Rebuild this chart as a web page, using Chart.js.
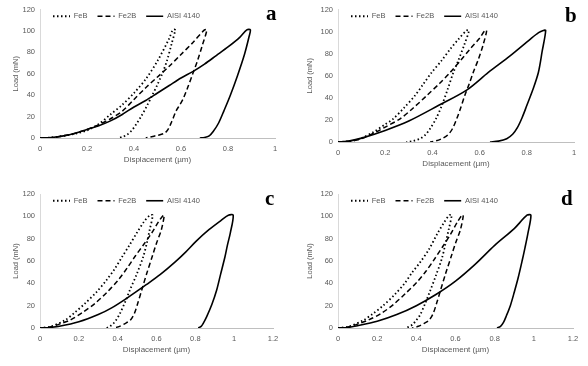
<!DOCTYPE html>
<html>
<head>
<meta charset="utf-8">
<script src="https://cdn.jsdelivr.net/npm/chart.js@4"></script>
<style>
  body { margin: 0; background: #fff; }
  #wrap { position: relative; width: 588px; height: 366px; }
  .panel { position: absolute; width: 294px; height: 183px; }
  .letter { position: absolute; font: bold 21px "Liberation Serif", serif; color: #000; }
</style>
</head>
<body>
<div id="wrap">
  <div class="panel" style="left:0;top:0"><canvas id="chartA" width="294" height="183"></canvas></div>
  <div class="panel" style="left:294px;top:0"><canvas id="chartB" width="294" height="183"></canvas></div>
  <div class="panel" style="left:0;top:183px"><canvas id="chartC" width="294" height="183"></canvas></div>
  <div class="panel" style="left:294px;top:183px"><canvas id="chartD" width="294" height="183"></canvas></div>
  <div class="letter" style="left:266px;top:1px">a</div>
  <div class="letter" style="left:565px;top:3px">b</div>
  <div class="letter" style="left:265px;top:186px">c</div>
  <div class="letter" style="left:561px;top:186px">d</div>
</div>
<script>
// Series names
const seriesNames = ['FeB', 'Fe2B', 'AISI 4140'];
const yTicks = [0, 20, 40, 60, 80, 100, 120];

// Panel a - displacement (um) / load (mN), loading then unloading
const feB_a_x = [0, 0.05, 0.1, 0.15, 0.2, 0.25, 0.3, 0.35, 0.4, 0.45, 0.5, 0.55, 0.565, 0.575,
  0.56, 0.54, 0.52, 0.5, 0.48, 0.455, 0.43, 0.41, 0.39, 0.37, 0.35, 0.335];
const feB_a_y = [0, 0.5, 2, 4, 7, 13, 22, 31, 42, 55, 72, 93, 101, 101,
  88, 72, 60, 50, 41, 30, 20, 13, 7, 3, 1, 0];
const fe2B_a_x = [0, 0.05, 0.1, 0.15, 0.2, 0.25, 0.3, 0.35, 0.4, 0.45, 0.5, 0.55, 0.6, 0.65, 0.7, 0.71,
  0.69, 0.67, 0.65, 0.63, 0.61, 0.595, 0.58, 0.56, 0.545, 0.53, 0.5, 0.47, 0.45];
const fe2B_a_y = [0, 0.5, 2, 4.5, 8, 12.5, 18, 25, 36, 47, 57, 67, 78, 89, 101, 101,
  86, 72, 60, 48, 37, 31, 25.6, 15, 8, 4.5, 2.5, 1, 0];
const aisi_a_x = [0, 0.05, 0.1, 0.15, 0.2, 0.25, 0.3, 0.35, 0.4, 0.45, 0.5, 0.55, 0.6, 0.65, 0.7, 0.75, 0.8, 0.85, 0.88, 0.895,
  0.89, 0.87, 0.84, 0.81, 0.783, 0.76, 0.737, 0.72, 0.7, 0.68];
const aisi_a_y = [0, 0.5, 2, 4.5, 8, 11.5, 16, 22, 29, 35, 42, 49, 56, 62, 69, 77, 85, 94, 101, 101,
  95, 78, 58, 40, 25.6, 14, 6, 2, 0.5, 0];

// Panel b
const feB_b_x = [0, 0.05, 0.1, 0.15, 0.2, 0.234, 0.28, 0.326, 0.36, 0.397, 0.44, 0.475, 0.51, 0.545, 0.555,
  0.535, 0.51, 0.489, 0.465, 0.44, 0.415, 0.39, 0.37, 0.35, 0.32, 0.29];
const feB_b_y = [0, 0.8, 3.5, 9, 16, 21, 31, 42, 52, 63, 74, 84, 93, 101, 101,
  88, 74, 63, 48, 33, 21, 12, 6.5, 3.3, 1, 0];
const fe2B_b_x = [0, 0.05, 0.1, 0.164, 0.2, 0.263, 0.32, 0.376, 0.43, 0.475, 0.52, 0.559, 0.6, 0.623, 0.63,
  0.615, 0.595, 0.573, 0.555, 0.537, 0.52, 0.503, 0.485, 0.465, 0.44, 0.415, 0.39];
const fe2B_b_y = [0, 0.7, 3, 9.3, 13.5, 21, 31, 42, 53, 63, 74, 84, 94, 101, 101,
  88, 75, 63, 52, 42, 31, 21, 12, 6.3, 3, 1, 0];
const aisi_b_x = [0, 0.05, 0.1, 0.2, 0.3, 0.425, 0.545, 0.637, 0.729, 0.814, 0.85, 0.87, 0.88,
  0.865, 0.849, 0.825, 0.8, 0.78, 0.76, 0.74, 0.715, 0.68, 0.644];
const aisi_b_y = [0, 1, 3.5, 10.5, 19, 33, 47, 63, 78, 93, 99, 101, 101,
  82, 63, 47, 33, 22, 13, 7, 3, 0.8, 0];

// Panel c
const feB_c_x = [0, 0.05, 0.129, 0.18, 0.232, 0.29, 0.343, 0.385, 0.424, 0.46, 0.498, 0.535, 0.566, 0.58,
  0.565, 0.55, 0.532, 0.5, 0.463, 0.44, 0.412, 0.395, 0.378, 0.36, 0.343];
const feB_c_y = [0, 1, 7, 14, 22, 32, 43, 53, 64, 74, 85, 95, 101, 101,
  88, 76, 64, 49, 34, 24, 13, 8, 4, 1.5, 0];
const fe2B_c_x = [0, 0.05, 0.1, 0.154, 0.22, 0.283, 0.345, 0.403, 0.45, 0.489, 0.535, 0.575, 0.61, 0.635, 0.64,
  0.625, 0.6, 0.578, 0.55, 0.524, 0.505, 0.486, 0.465, 0.438, 0.41, 0.38];
const fe2B_c_y = [0, 1, 3.5, 7, 14, 22, 32, 43, 54, 64, 75, 85, 95, 101, 101,
  88, 76, 64, 49, 34, 23, 13, 7, 4, 1.5, 0];
const aisi_c_x = [0, 0.05, 0.1, 0.2, 0.3, 0.369, 0.45, 0.549, 0.62, 0.695, 0.75, 0.806, 0.87, 0.93, 0.97, 0.995,
  0.98, 0.965, 0.953, 0.93, 0.91, 0.885, 0.858, 0.84, 0.83, 0.815];
const aisi_c_y = [0, 0.5, 1.5, 5.5, 12, 18, 27, 39, 48, 59, 68, 78, 88, 96, 101, 101,
  85, 74, 64, 48, 34, 21, 10, 4, 1.5, 0];

// Panel d
const feB_d_x = [0, 0.05, 0.13, 0.18, 0.23, 0.29, 0.34, 0.38, 0.42, 0.463, 0.509, 0.54, 0.568, 0.58,
  0.565, 0.548, 0.53, 0.5, 0.47, 0.445, 0.42, 0.4, 0.38, 0.36, 0.345];
const feB_d_y = [0, 1, 7, 13, 20, 30, 40, 50, 59, 70, 85, 94, 101, 101,
  88, 75, 62, 47, 33, 22, 12, 7, 3, 1, 0];
const fe2B_d_x = [0, 0.05, 0.1, 0.154, 0.22, 0.283, 0.345, 0.403, 0.45, 0.49, 0.535, 0.575, 0.61, 0.633, 0.64,
  0.625, 0.6, 0.578, 0.55, 0.524, 0.505, 0.486, 0.465, 0.438, 0.41, 0.378];
const fe2B_d_y = [0, 1, 3.5, 7, 13, 21, 31, 41, 51, 61, 73, 84, 95, 101, 101,
  88, 76, 64, 49, 34, 23, 13, 7, 4, 1.5, 0];
const aisi_d_x = [0, 0.05, 0.1, 0.2, 0.3, 0.4, 0.5, 0.6, 0.7, 0.8, 0.9, 0.965, 0.985,
  0.97, 0.955, 0.94, 0.92, 0.9, 0.88, 0.86, 0.845, 0.83, 0.812];
const aisi_d_y = [0, 0.5, 2, 6, 12, 20, 30, 42, 57, 74, 89, 101, 101,
  85, 72, 60, 45, 32, 20, 11, 5, 1.5, 0];

// Line styles per series
const lineStyles = [
  { dash: [1.5, 2.5], width: 1.8 },
  { dash: [5, 3], width: 1.5 },
  { dash: [], width: 1.6 }
];

function toPoints(xs, ys) {
  return xs.map((x, i) => ({ x: x, y: ys[i] }));
}

// Legend sits inside the plot area in one row, like Excel does it
const legendInPlot = {
  id: 'legendInPlot',
  beforeLayout(chart) {
    if (chart.legend) chart.legend.isHorizontal = () => true;
  },
  afterLayout(chart, args, opts) {
    const lg = chart.legend;
    if (lg) {
      lg.left = chart.chartArea.left + (opts.dx || 0);
      lg.top = chart.chartArea.top + (opts.dy || 0);
    }
  }
};

// point style legend takes the point's style, so put the line style back
function lineLabels(chart) {
  return Chart.defaults.plugins.legend.labels.generateLabels(chart).map((item, i) => Object.assign(item, {
    lineDash: lineStyles[i].dash,
    lineWidth: lineStyles[i].width,
    strokeStyle: '#000',
    fillStyle: '#000'
  }));
}

const tickFont = { family: 'Liberation Sans', size: 7.5 };
const grey = '#595959';

function makeChart(id, curves, xMax, box) {
  const ctx = document.getElementById(id).getContext('2d');
  return new Chart(ctx, {
    type: 'scatter',
    data: {
      datasets: curves.map((c, i) => ({
        label: seriesNames[i],
        data: toPoints(c[0], c[1]),
        showLine: true,
        pointRadius: 0,
        borderColor: '#000',
        backgroundColor: '#000',
        borderWidth: lineStyles[i].width,
        borderDash: lineStyles[i].dash,
        borderJoinStyle: 'round',
        tension: 0.3
      }))
    },
    options: {
      responsive: false,
      animation: false,
      layout: { padding: { left: 0, top: box.top, right: 294 - box.right, bottom: 183 - box.bottom - 30 } },
      plugins: {
        legend: {
          position: 'chartArea',
          align: 'start',
          labels: { usePointStyle: true, pointStyle: 'line', pointStyleWidth: 17, boxHeight: 5,
            padding: 10, color: grey, font: tickFont, generateLabels: lineLabels }
        },
        tooltip: { enabled: false },
        legendInPlot: { dx: 3, dy: -7 }
      },
      scales: {
        x: {
          type: 'linear',
          min: 0,
          max: xMax,
          grid: { drawOnChartArea: false, drawTicks: false },
          border: { color: '#bfbfbf' },
          ticks: { stepSize: 0.2, padding: 6, color: grey, font: tickFont,
            callback: v => String(+v.toFixed(1)) },
          title: { display: true, text: 'Displacement (µm)', color: grey,
            font: { family: 'Liberation Sans', size: 8 }, padding: { top: 0, bottom: 3 } },
          afterFit: s => { s.height = 30; }
        },
        y: {
          min: 0,
          max: 120,
          grid: { drawOnChartArea: false, drawTicks: false },
          border: { color: '#d9d9d9' },
          afterBuildTicks: s => { s.ticks = yTicks.map(v => ({ value: v })); },
          ticks: { padding: 5, color: grey, font: tickFont },
          title: { display: true, text: 'Load (mN)', color: grey,
            font: { family: 'Liberation Sans', size: 7.5 }, padding: { top: 11, bottom: 0 } },
          afterFit: s => { s.width = box.left; }
        }
      }
    },
    plugins: [legendInPlot]
  });
}

makeChart('chartA', [[feB_a_x, feB_a_y], [fe2B_a_x, fe2B_a_y], [aisi_a_x, aisi_a_y]], 1,
  { left: 40, right: 275, top: 7, bottom: 138 });
makeChart('chartB', [[feB_b_x, feB_b_y], [fe2B_b_x, fe2B_b_y], [aisi_b_x, aisi_b_y]], 1,
  { left: 44, right: 280, top: 8, bottom: 142 });
makeChart('chartC', [[feB_c_x, feB_c_y], [fe2B_c_x, fe2B_c_y], [aisi_c_x, aisi_c_y]], 1.2,
  { left: 40, right: 273, top: 11, bottom: 145 });
makeChart('chartD', [[feB_d_x, feB_d_y], [fe2B_d_x, fe2B_d_y], [aisi_d_x, aisi_d_y]], 1.2,
  { left: 44, right: 279, top: 11, bottom: 145 });
</script>
</body>
</html>
